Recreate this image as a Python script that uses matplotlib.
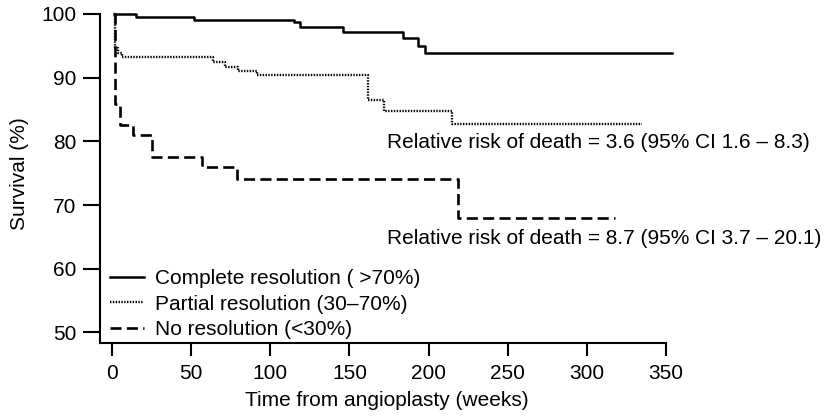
import matplotlib
matplotlib.use("Agg")
import matplotlib.pyplot as plt

plt.rcParams['font.family'] = ['Liberation Sans', 'DejaVu Sans']

# Kaplan-Meier step curves (weeks, survival %)
complete_t = [1.5, 15, 52, 115, 119, 146, 184, 193, 198, 354]
complete_s = [100.0, 99.6, 99.1, 98.7, 97.9, 97.1, 96.2, 95.0, 93.8, 93.8]

partial_t = [1.5, 1.8, 3.5, 6.5, 64, 71.5, 79.5, 91.5, 161.5, 171.5, 215, 335]
partial_s = [100.0, 94.6, 93.9, 93.3, 92.5, 91.7, 91.1, 90.4, 86.5, 84.8, 82.7, 82.7]

none_t = [1.5, 1.8, 5, 13.3, 25.3, 57, 79, 218.6, 318]
none_s = [100.0, 85.8, 82.6, 81.0, 77.6, 76.0, 74.1, 68.0, 68.0]

labels = ["Complete resolution ( >70%)", "Partial resolution (30\u201370%)", "No resolution (<30%)"]
annotations = [
    (173.7, 79.75, "Relative risk of death = 3.6 (95% CI 1.6 \u2013 8.3)"),
    (173.7, 64.8, "Relative risk of death = 8.7 (95% CI 3.7 \u2013 20.1)"),
]
xticks = [0, 50, 100, 150, 200, 250, 300, 350]
yticks = [50, 60, 70, 80, 90, 100]

fig = plt.figure(figsize=(8.34, 4.16), dpi=100)
ax = fig.add_axes([100 / 834, (416 - 343) / 416, (674 - 100) / 834, (343 - 4.4) / 416])

ax.step(complete_t, complete_s, where='post', color='black', lw=1.8, label=labels[0])
ax.step(partial_t, partial_s, where='post', color='black', lw=1.7,
        linestyle=(0, (0.6, 0.6)), label=labels[1])
ax.step(none_t, none_s, where='post', color='black', lw=1.9,
        linestyle=(0, (4.2, 2.0)), label=labels[2])

fs = 15.0
for x, y, s in annotations:
    ax.text(x, y, s, fontsize=fs, ha='left', va='center')

ax.set_xlim(-7.6, 355)
ax.set_ylim(48.35, 101.5)
ax.spines['top'].set_visible(False)
ax.spines['right'].set_visible(False)
ax.spines['bottom'].set_bounds(-7.6, 350)
ax.spines['left'].set_bounds(48.35, 100)
for sp in ('bottom', 'left'):
    ax.spines[sp].set_linewidth(1.5)

ax.set_xticks(xticks)
ax.set_yticks(yticks)
ax.tick_params(axis='x', length=9, width=1.5, pad=6, labelsize=fs)
ax.tick_params(axis='y', length=12, width=1.5, pad=5, labelsize=fs)

ax.set_xlabel("Time from angioplasty (weeks)", fontsize=fs, labelpad=6)
ax.set_ylabel("Survival (%)", fontsize=fs, labelpad=9)

ax.legend(loc='lower left', bbox_to_anchor=(0.0, -0.02), frameon=False, fontsize=fs,
          handlelength=1.6, handletextpad=0.55, labelspacing=0.32, borderaxespad=0.2,
          borderpad=0.3)

fig.savefig("out.png", dpi=100)
